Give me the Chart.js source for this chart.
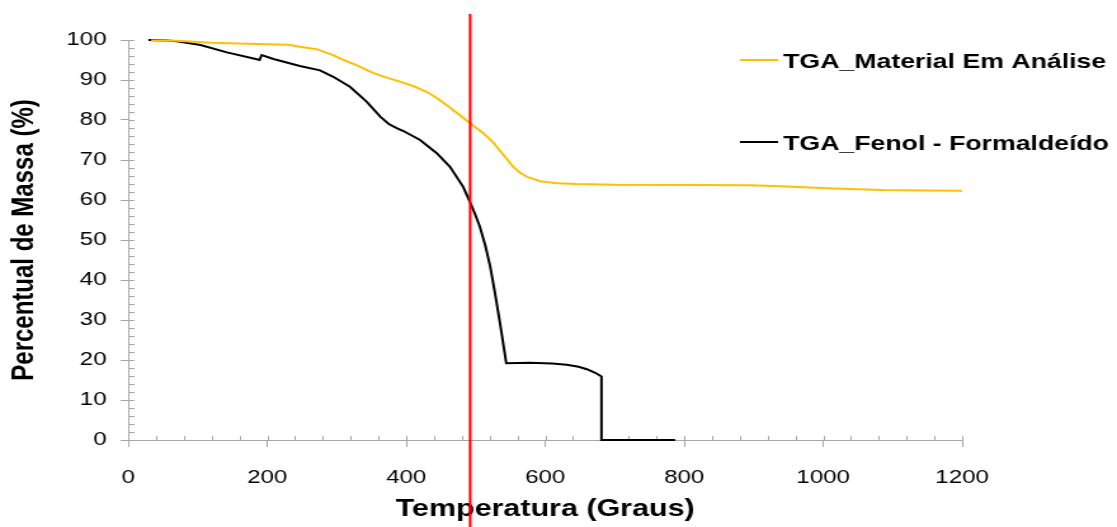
<!DOCTYPE html>
<html><head><meta charset="utf-8">
<script src="https://cdn.jsdelivr.net/npm/chart.js@4"></script>
<style>
html,body{margin:0;padding:0;background:#fff;overflow:hidden}
#chart{display:block;width:1117px !important;height:527px !important}
</style></head><body>
<canvas id="chart" width="880" height="527"></canvas>
<script>
const seriesLabels = ['TGA_Material Em Análise', 'TGA_Fenol - Formaldeído'];
const seriesColors = ['#FFC000', '#000000'];

const materialTemp = [33, 70, 120, 185, 230, 247, 271, 295, 310, 330, 353, 372, 391, 410, 430, 445, 458, 475, 492, 511, 526, 540, 554, 564, 574, 593, 617, 645, 700, 800, 895, 948, 1014, 1086, 1150, 1200];
const materialMass = [99.9, 99.8, 99.3, 99.0, 98.8, 98.3, 97.7, 96.2, 95.0, 93.6, 91.7, 90.6, 89.6, 88.5, 87.0, 85.4, 83.75, 81.5, 79.2, 76.7, 74.2, 71.25, 68.3, 66.8, 65.8, 64.7, 64.2, 64.0, 63.8, 63.75, 63.7, 63.4, 62.9, 62.5, 62.4, 62.3];

const fenolTemp = [29, 56, 70, 104, 142, 185, 189, 192, 209, 247, 276, 295, 319, 343, 363, 375, 387, 396, 420, 444, 463, 482, 492, 499, 506, 514, 521, 528, 535, 544, 578, 610, 631, 648, 660, 672, 681, 681, 787];
const fenolMass = [100, 99.9, 99.7, 98.75, 96.9, 95.2, 95.0, 96.25, 95.25, 93.5, 92.4, 90.8, 88.3, 84.6, 80.8, 79.0, 77.9, 77.25, 75.0, 71.7, 68.3, 63.3, 59.4, 56.5, 53.3, 48.5, 43.3, 36.5, 29.2, 19.2, 19.3, 19.1, 18.8, 18.3, 17.7, 16.8, 15.9, 0, 0];

const xTickValues = [0, 200, 400, 600, 800, 1000, 1200];
const yTickValues = [0, 10, 20, 30, 40, 50, 60, 70, 80, 90, 100];
const xMinorStep = 40;
const yMinorStep = 2;
const markerTemperature = 492;
const xTitle = 'Temperatura (Graus)';
const yTitle = 'Percentual de Massa (%)';

const axisColor = '#a6a6a6';
const fontFamily = '"Liberation Sans", Arial, sans-serif';
const toPoints = (xs, ys) => xs.map((x, i) => ({x: x, y: ys[i]}));

const minorTicks = {
  id: 'minorTicks',
  beforeDatasetsDraw(chart) {
    const {ctx, chartArea: a, scales: {x, y}} = chart;
    ctx.save();
    ctx.strokeStyle = axisColor;
    ctx.lineWidth = 1;
    ctx.beginPath();
    for (let v = y.min; v <= y.max; v += yMinorStep) {
      const py = Math.round(y.getPixelForValue(v)) + 0.5;
      ctx.moveTo(a.left, py); ctx.lineTo(a.left + 5, py);
    }
    for (let v = x.min; v <= x.max; v += xMinorStep) {
      const px = Math.round(x.getPixelForValue(v)) + 0.5;
      ctx.moveTo(px, a.bottom); ctx.lineTo(px, a.bottom - 4);
    }
    ctx.stroke();
    ctx.restore();
  }
};

const sideLegend = {
  id: 'sideLegend',
  afterDraw(chart) {
    const ctx = chart.ctx;
    const rows = [62.5, 144.5];
    ctx.save();
    ctx.font = 'bold 21px ' + fontFamily;
    ctx.textBaseline = 'middle';
    ctx.textAlign = 'left';
    chart.data.datasets.forEach((ds, i) => {
      const yy = rows[i];
      ctx.strokeStyle = ds.borderColor;
      ctx.lineWidth = 2;
      ctx.beginPath();
      ctx.moveTo(583, yy - 2.5); ctx.lineTo(613, yy - 2.5);
      ctx.stroke();
      ctx.fillStyle = '#000';
      ctx.fillText(ds.label, 617, yy);
    });
    ctx.restore();
  }
};

const markerLine = {
  id: 'markerLine',
  afterDraw(chart) {
    const ctx = chart.ctx;
    const px = chart.scales.x.getPixelForValue(markerTemperature);
    ctx.save();
    ctx.strokeStyle = '#ff0000';
    ctx.lineWidth = 2;
    ctx.beginPath();
    ctx.moveTo(px, 14); ctx.lineTo(px, chart.height);
    ctx.stroke();
    ctx.restore();
  }
};

new Chart(document.getElementById('chart'), {
  type: 'scatter',
  data: {
    datasets: [
      {label: seriesLabels[0], data: toPoints(materialTemp, materialMass), borderColor: seriesColors[0], backgroundColor: seriesColors[0], showLine: true, borderWidth: 2, pointRadius: 0, tension: 0, clip: false},
      {label: seriesLabels[1], data: toPoints(fenolTemp, fenolMass), borderColor: seriesColors[1], backgroundColor: seriesColors[1], showLine: true, borderWidth: 2, pointRadius: 0, tension: 0, clip: false}
    ]
  },
  options: {
    responsive: false,
    devicePixelRatio: 1,
    animation: false,
    events: [],
    layout: {padding: {top: 40, right: 122, bottom: 0, left: 0}},
    plugins: {legend: {display: false}, tooltip: {enabled: false}},
    scales: {
      x: {
        type: 'linear', min: 0, max: 1200,
        afterBuildTicks: s => { s.ticks = xTickValues.map(v => ({value: v})); },
        afterFit: s => { s.height = 87; },
        grid: {drawOnChartArea: false, drawTicks: true, tickLength: 7, color: axisColor},
        border: {display: true, color: axisColor, width: 1},
        ticks: {color: '#000', padding: 19, maxRotation: 0, callback: v => String(v), font: {family: fontFamily, size: 19}},
        title: {display: true, text: xTitle, color: '#000', padding: {top: 0, bottom: 3}, font: {family: fontFamily, size: 24, weight: 'bold'}}
      },
      y: {
        type: 'linear', min: 0, max: 100,
        afterBuildTicks: s => { s.ticks = yTickValues.map(v => ({value: v})); },
        afterFit: s => { s.width = 101; },
        grid: {drawOnChartArea: false, drawTicks: true, tickLength: 6, color: axisColor},
        border: {display: true, color: axisColor, width: 1},
        ticks: {color: '#000', padding: 11, callback: v => String(v), font: {family: fontFamily, size: 19}},
        title: {display: true, text: yTitle, color: '#000', padding: {top: 5, bottom: 0}, font: {family: fontFamily, size: 24, weight: 'bold'}}
      }
    }
  },
  plugins: [minorTicks, sideLegend, markerLine]
});
</script>
</body></html>
